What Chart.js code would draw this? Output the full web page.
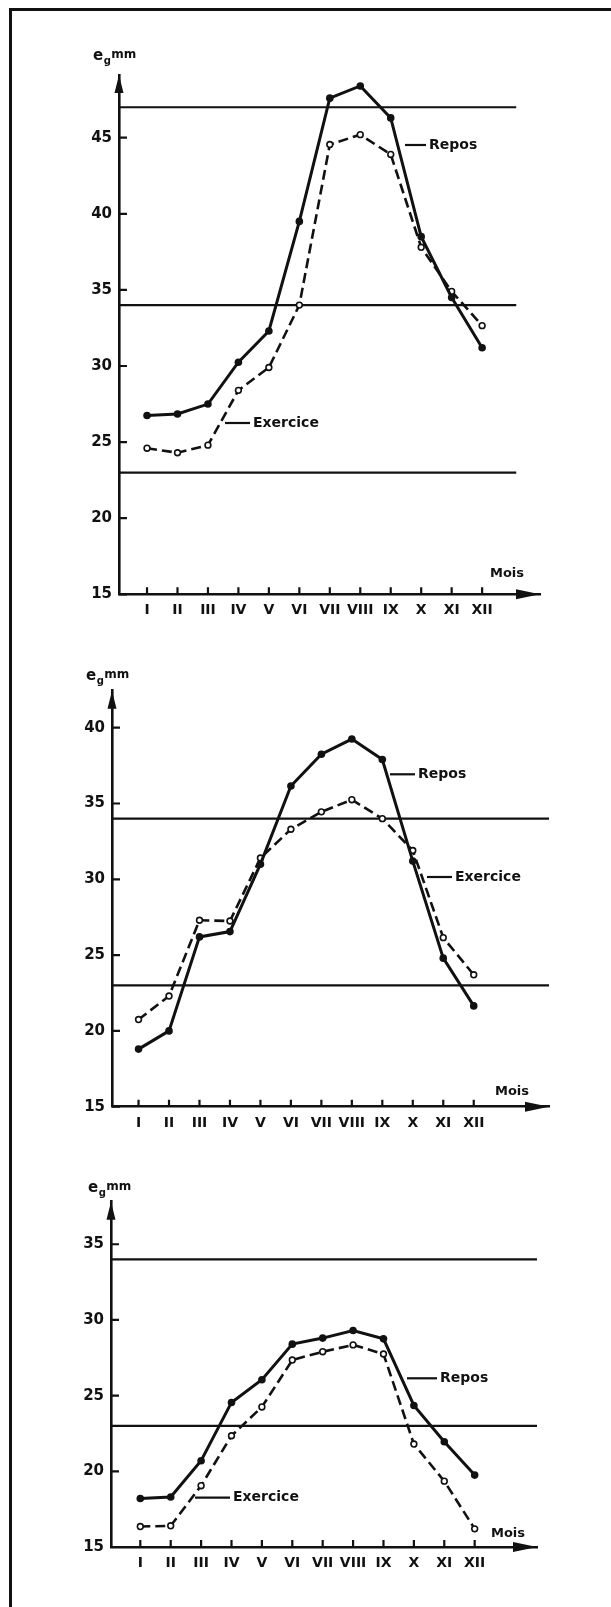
<!DOCTYPE html>
<html>
<head>
<meta charset="utf-8">
<script src="https://cdn.jsdelivr.net/npm/chart.js@4/dist/chart.umd.min.js"></script>
<style>
  body { margin: 0; background: #fff; width: 611px; height: 1607px; position: relative; overflow: hidden; }
  canvas { position: absolute; left: 0; }
  #frame { position: absolute; left: 9px; top: 8px; width: 640px; height: 1640px; border-left: 3px solid #111; border-top: 3px solid #111; }
</style>
</head>
<body>
<div id="frame"></div>
<canvas id="c1" width="611" height="640" style="top:0px"></canvas>
<canvas id="c2" width="611" height="510" style="top:640px"></canvas>
<canvas id="c3" width="611" height="457" style="top:1150px"></canvas>
<script>
var months = ["I", "II", "III", "IV", "V", "VI", "VII", "VIII", "IX", "X", "XI", "XII"];

// panel 1
var repos1 = [26.75, 26.85, 27.5, 30.25, 32.3, 39.5, 47.6, 48.4, 46.3, 38.5, 34.5, 31.2];
var exercice1 = [24.6, 24.3, 24.8, 28.4, 29.9, 34.0, 44.55, 45.2, 43.9, 37.8, 34.9, 32.65];
var refLines1 = [47, 34, 23];
var yTicks1 = [15, 20, 25, 30, 35, 40, 45];

// panel 2
var repos2 = [18.8, 20.0, 26.2, 26.55, 31.0, 36.15, 38.25, 39.25, 37.9, 31.2, 24.8, 21.65];
var exercice2 = [20.75, 22.3, 27.3, 27.25, 31.4, 33.3, 34.45, 35.25, 34.0, 31.9, 26.15, 23.7];
var refLines2 = [34, 23];
var yTicks2 = [15, 20, 25, 30, 35, 40];

// panel 3
var repos3 = [18.2, 18.3, 20.7, 24.55, 26.05, 28.4, 28.8, 29.3, 28.75, 24.35, 21.95, 19.75];
var exercice3 = [16.35, 16.4, 19.05, 22.35, 24.25, 27.35, 27.9, 28.35, 27.75, 21.8, 19.35, 16.2];
var refLines3 = [34, 23];
var yTicks3 = [15, 20, 25, 30, 35];

var ink = "#111";
var FONT = '"DejaVu Sans", sans-serif';

Chart.defaults.font.family = FONT;
Chart.defaults.font.weight = "bold";
Chart.defaults.color = ink;

function seriesData(values) {
    return values.map(function (v, i) { return { x: i + 1, y: v }; });
}

// axes arrows, inner ticks, unit + series labels
var decor = {
    id: "decor",
    afterDraw: function (chart) {
        var p = chart.options.plugins.decor;
        var ctx = chart.ctx;
        var a = chart.chartArea;
        var xs = chart.scales.x, ys = chart.scales.y;
        ctx.save();
        ctx.strokeStyle = ink;
        ctx.fillStyle = ink;
        ctx.lineWidth = 2.2;

        ctx.beginPath();
        months.forEach(function (m, i) {
            var px = xs.getPixelForValue(i + 1);
            ctx.moveTo(px, a.bottom);
            ctx.lineTo(px, a.bottom - 7);
        });
        p.yTicks.forEach(function (v) {
            var py = ys.getPixelForValue(v);
            ctx.moveTo(a.left, py);
            ctx.lineTo(a.left + 8, py);
        });
        ctx.stroke();

        ctx.beginPath();
        ctx.moveTo(a.left, a.top);
        ctx.lineTo(a.left - 4.5, a.top + 18);
        ctx.lineTo(a.left + 4.5, a.top + 18);
        ctx.closePath();
        ctx.moveTo(a.right, a.bottom);
        ctx.lineTo(a.right - 24, a.bottom - 5);
        ctx.lineTo(a.right - 24, a.bottom + 5);
        ctx.closePath();
        ctx.fill();

        ctx.textBaseline = "middle";
        ctx.textAlign = "left";
        ctx.font = "bold 15px " + FONT;
        ctx.fillText("e", p.unit[0], p.unit[1]);
        var w = ctx.measureText("e").width;
        ctx.font = "bold 10px " + FONT;
        ctx.fillText("g", p.unit[0] + w + 0.5, p.unit[1] + 5);
        ctx.font = "bold 12px " + FONT;
        ctx.fillText("mm", p.unit[0] + w + 8, p.unit[1] - 1);

        ctx.font = "bold 13px " + FONT;
        ctx.textAlign = "right";
        ctx.fillText("Mois", p.mois[0], p.mois[1]);

        ctx.textAlign = "left";
        ctx.font = "bold 14px " + FONT;
        p.labels.forEach(function (l) {
            ctx.beginPath();
            ctx.moveTo(l.from, l.y);
            ctx.lineTo(l.x - 3, l.y);
            ctx.stroke();
            ctx.fillText(l.text, l.x, l.y);
        });
        ctx.restore();
    }
};

function makeChart(id, repos, exercice, refLines, yTicks, box) {
    var datasets = [
        {
            label: "Repos",
            data: seriesData(repos),
            borderColor: ink,
            borderWidth: 3,
            pointRadius: 3.8,
            pointBackgroundColor: ink,
            pointBorderWidth: 0,
            order: 0
        },
        {
            label: "Exercice",
            data: seriesData(exercice),
            borderColor: ink,
            borderWidth: 2.6,
            borderDash: [10, 5],
            pointRadius: 2.9,
            pointBackgroundColor: "#fff",
            pointBorderColor: ink,
            pointBorderWidth: 1.6,
            order: 1
        }
    ];
    refLines.forEach(function (v) {
        datasets.push({
            data: [{ x: box.xMin, y: v }, { x: box.refEnd, y: v }],
            borderColor: ink,
            borderWidth: 2.2,
            pointRadius: 0,
            order: 2
        });
    });

    return new Chart(document.getElementById(id), {
        type: "line",
        data: { datasets: datasets },
        plugins: [decor],
        options: {
            responsive: false,
            animation: false,
            layout: { padding: { top: box.top, right: box.right, bottom: box.bottom, left: 0 } },
            plugins: {
                legend: { display: false },
                tooltip: { enabled: false },
                decor: { yTicks: yTicks, unit: box.unit, mois: box.mois, labels: box.labels }
            },
            scales: {
                x: {
                    type: "linear",
                    min: box.xMin,
                    max: box.xMax,
                    afterFit: function (s) { s.height = 30; },
                    afterBuildTicks: function (s) {
                        s.ticks = months.map(function (m, i) { return { value: i + 1 }; });
                    },
                    ticks: {
                        callback: function (v, i) { return months[i]; },
                        autoSkip: false,
                        maxRotation: 0,
                        padding: 8,
                        font: { size: 14, weight: "bold" },
                        color: ink
                    },
                    grid: { display: false, drawTicks: false },
                    border: { display: true, color: ink, width: 2.6 }
                },
                y: {
                    type: "linear",
                    min: 15,
                    max: box.yMax,
                    afterFit: function (s) { s.width = box.left; },
                    afterBuildTicks: function (s) {
                        s.ticks = yTicks.map(function (v) { return { value: v }; });
                    },
                    ticks: { padding: 7, font: { size: 15, weight: "bold" }, color: ink },
                    grid: { display: false, drawTicks: false },
                    border: { display: true, color: ink, width: 2.6 }
                }
            }
        }
    });
}

makeChart("c1", repos1, exercice1, refLines1, yTicks1, {
    left: 119, top: 75, right: 71, bottom: 15.7,
    xMin: 0.08, xMax: 13.9, refEnd: 13.12, yMax: 49.12,
    unit: [93, 56], mois: [524, 574],
    labels: [
        { text: "Repos", x: 429, y: 145, from: 405 },
        { text: "Exercice", x: 253, y: 423, from: 225 }
    ]
});

makeChart("c2", repos2, exercice2, refLines2, yTicks2, {
    left: 112, top: 50.7, right: 62, bottom: 13.3,
    xMin: 0.129, xMax: 14.47, refEnd: 14.47, yMax: 42.44,
    unit: [86, 36], mois: [529, 451.7],
    labels: [
        { text: "Repos", x: 418, y: 134.3, from: 390 },
        { text: "Exercice", x: 455, y: 237, from: 427 }
    ]
});

makeChart("c3", repos3, exercice3, refLines3, yTicks3, {
    left: 111, top: 51.7, right: 74, bottom: 30,
    xMin: 0.036, xMax: 14.05, refEnd: 14.05, yMax: 37.81,
    unit: [88, 38], mois: [525, 383.3],
    labels: [
        { text: "Repos", x: 440, y: 228.3, from: 407 },
        { text: "Exercice", x: 233, y: 347.7, from: 195 }
    ]
});
</script>
</body>
</html>
